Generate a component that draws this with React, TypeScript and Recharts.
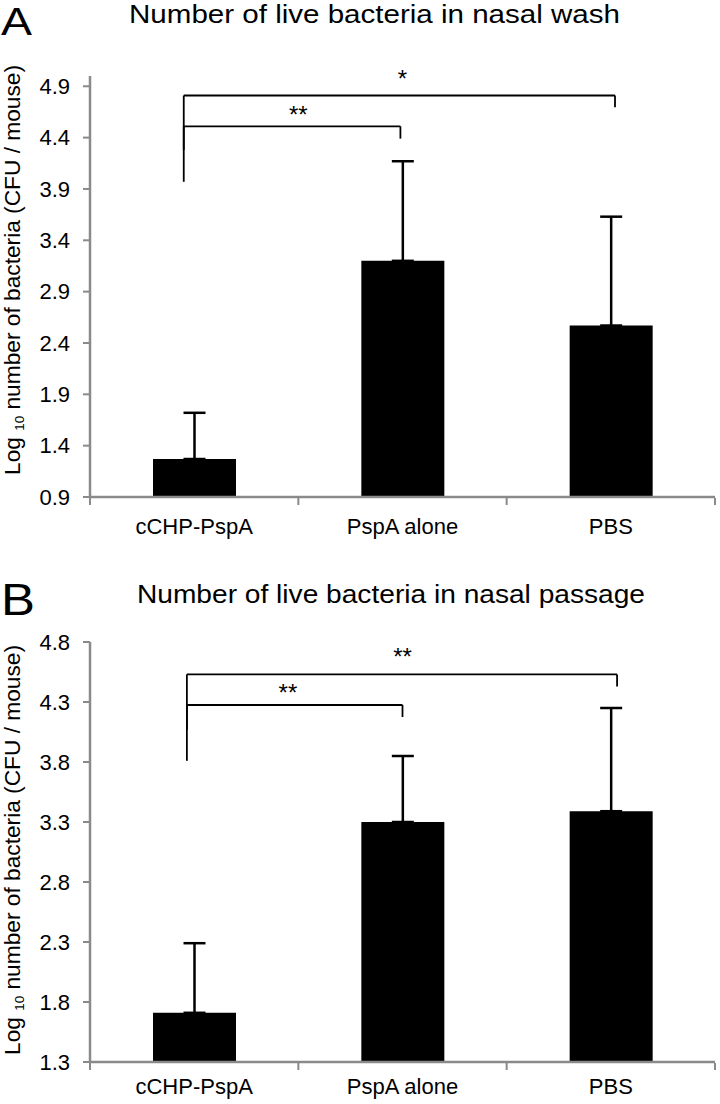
import {
  BarChart, Bar, XAxis, YAxis, ErrorBar, ReferenceLine, ReferenceDot,
} from 'recharts'

const GROUPS = ['cCHP-PspA', 'PspA alone', 'PBS']

// log10 CFU / mouse, mean and upper SD
const washMean = [1.27, 3.2, 2.57]
const washSd = [0.45, 0.97, 1.06]
const passageMean = [1.71, 3.3, 3.39]
const passageSd = [0.58, 0.55, 0.86]

const washTicks = [0.9, 1.4, 1.9, 2.4, 2.9, 3.4, 3.9, 4.4, 4.9]
const passageTicks = [1.3, 1.8, 2.3, 2.8, 3.3, 3.8, 4.3, 4.8]

// significance brackets: [from, to, top, left foot, right foot]
// x in group units (0..3 across the axis), y in log10 units
const washBrackets = [
  [0.45, 1.49, 4.51, 3.97, 4.39],
  [0.45, 2.52, 4.81, 4.28, 4.695],
]
const washStars = [
  { x: 1.0, y: 4.63, text: '**' },
  { x: 1.5, y: 4.98, text: '*' },
]
const passageBrackets = [
  [0.465, 1.5, 4.275, 3.81, 4.175],
  [0.465, 2.53, 4.53, 4.07, 4.43],
]
const passageStars = [
  { x: 0.95, y: 4.38, text: '**' },
  { x: 1.5, y: 4.68, text: '**' },
]

const AXIS_GREY = '#8a8a8a'
const FONT = '"Liberation Sans", Arial, Helvetica, sans-serif'

function AxisTitle({ cy }: { cy: number }) {
  const cx = 20
  return (
    <text
      x={cx}
      y={cy}
      transform={`rotate(-90, ${cx}, ${cy})`}
      textAnchor="middle"
      fontSize={22}
      fill="#000"
      textLength={410}
      lengthAdjust="spacingAndGlyphs"
    >
      Log <tspan fontSize={13} dy={4}>10</tspan>
      <tspan dy={-4}> number of bacteria (CFU / mouse)</tspan>
    </text>
  )
}

interface PanelProps {
  mean: number[]
  sd: number[]
  ticks: number[]
  domain: [number, number]
  brackets: number[][]
  stars: { x: number; y: number; text: string }[]
  height: number
  top: number
  bottom: number
  labelGap: number
  titleY: number
}

function Panel({ mean, sd, ticks, domain, brackets, stars, height, top, bottom, labelGap, titleY }: PanelProps) {
  const rows = GROUPS.map((g, i) => ({ group: g, slot: i + 0.5, mean: mean[i], err: [0, sd[i]] }))

  return (
    <BarChart width={720} height={height} data={rows} margin={{ top, right: 5, bottom, left: 0 }}>
      <XAxis
        xAxisId="cat"
        dataKey="group"
        height={1}
        interval={0}
        tickLine={false}
        tickSize={0}
        tickMargin={labelGap}
        axisLine={{ stroke: AXIS_GREY, strokeWidth: 2.5 }}
        tick={{ fontSize: 22, fill: '#000' }}
      />
      <XAxis
        xAxisId="pos"
        dataKey="slot"
        type="number"
        domain={[0, 3]}
        ticks={[0, 1, 2, 3]}
        allowDataOverflow
        height={1}
        interval={0}
        axisLine={false}
        tickFormatter={() => ''}
        tickSize={7}
        tickLine={{ stroke: AXIS_GREY, strokeWidth: 2 }}
      />
      <YAxis
        width={90}
        type="number"
        domain={domain}
        ticks={ticks}
        allowDataOverflow
        interval={0}
        tickFormatter={(v: number) => v.toFixed(1)}
        tick={{ fontSize: 22, fill: '#000' }}
        tickSize={7}
        tickMargin={13}
        tickLine={{ stroke: AXIS_GREY, strokeWidth: 2 }}
        axisLine={{ stroke: AXIS_GREY, strokeWidth: 2.5 }}
        label={{ content: () => <AxisTitle cy={titleY} /> }}
      />
      <Bar xAxisId="cat" dataKey="mean" fill="#000" barSize={83} isAnimationActive={false}>
        <ErrorBar dataKey="err" direction="y" width={11} stroke="#000" strokeWidth={2.5} isAnimationActive={false} />
      </Bar>
      {brackets.map(([x1, x2, y, foot1, foot2], i) => [
        <ReferenceLine key={`h${i}`} xAxisId="pos" ifOverflow="visible" stroke="#000" strokeWidth={1.8}
          segment={[{ x: x1, y }, { x: x2, y }]} />,
        <ReferenceLine key={`l${i}`} xAxisId="pos" ifOverflow="visible" stroke="#000" strokeWidth={1.8}
          segment={[{ x: x1, y }, { x: x1, y: foot1 }]} />,
        <ReferenceLine key={`r${i}`} xAxisId="pos" ifOverflow="visible" stroke="#000" strokeWidth={1.8}
          segment={[{ x: x2, y }, { x: x2, y: foot2 }]} />,
      ])}
      {stars.map((s, i) => (
        <ReferenceDot key={`s${i}`} xAxisId="pos" x={s.x} y={s.y} r={0} ifOverflow="visible"
          fill="none" stroke="none"
          label={{ value: s.text, position: 'center', fontSize: 24, fill: '#000' }} />
      ))}
    </BarChart>
  )
}

export default function App() {
  return (
    <div style={{ position: 'absolute', left: 0, top: 0, width: 720, height: 1104, background: '#fff', fontFamily: FONT }}>
      <svg width={720} height={1104} style={{ position: 'absolute', left: 0, top: 0 }}>
        <text x={1} y={35} fontSize={38} textLength={31} lengthAdjust="spacingAndGlyphs">A</text>
        <text x={129} y={23} fontSize={25} textLength={491} lengthAdjust="spacingAndGlyphs">
          Number of live bacteria in nasal wash
        </text>
        <text x={1} y={615} fontSize={45} textLength={34} lengthAdjust="spacingAndGlyphs">B</text>
        <text x={137} y={603} fontSize={25} textLength={508} lengthAdjust="spacingAndGlyphs">
          Number of live bacteria in nasal passage
        </text>
      </svg>
      <div style={{ position: 'absolute', left: 0, top: 0 }}>
        <Panel mean={washMean} sd={washSd} ticks={washTicks} domain={[0.9, 5.0]}
          brackets={washBrackets} stars={washStars}
          height={560} top={76} bottom={61} labelGap={21} titleY={270} />
      </div>
      <div style={{ position: 'absolute', left: 0, top: 560 }}>
        <Panel mean={passageMean} sd={passageSd} ticks={passageTicks} domain={[1.3, 4.8]}
          brackets={passageBrackets} stars={passageStars}
          height={544} top={82} bottom={40} labelGap={16} titleY={290} />
      </div>
    </div>
  )
}
